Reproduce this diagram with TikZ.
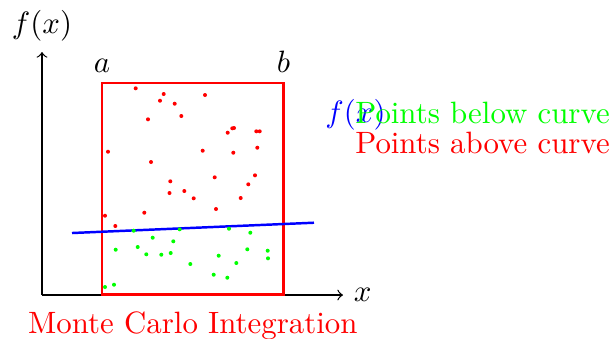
\documentclass[tikz,border=0pt]{standalone}
\begin{document}
\begin{tikzpicture}[x=0.3241pt,y=-0.3241pt,
  ax/.style={->,line width=0.4pt},
  above dot/.style={fill=red},
  below dot/.style={fill=green},
  lbl/.style={inner sep=0pt,anchor=base}]
\useasboundingbox (0,0) rectangle (614,338);
% axes
\coordinate (O) at (42,295);
\coordinate (X) at (343,295);
\coordinate (Y) at (42,52);
\draw[ax] (O) -- (X) node[right] (xl) {$x$};
\draw[ax] (O) -- (Y) node[above] (yl) {$f(x)$};
% interval rectangle
\coordinate (A) at (102,83);
\coordinate (B) at (283.5,83);
\draw[red,line width=0.8pt] (102,294.5) rectangle (283.5,83);
\node[above] (al) at (A) {$a$};
\node[above] (bl) at (B) {$b$};
% function
\coordinate (F0) at (72,233);
\coordinate (F1) at (314,222.7);
\draw[blue,line width=0.8pt] (F0) -- (F1);
\node[lbl,blue] (fl) at (355.5,122) {$f(x)$};
% points above
\foreach \p in {(135.7,88.3),(163.7,94),(205,95),(160,100.7),(174.7,103.7),(181.3,116),(148,119.3),(232.3,128.3),(234,128),(227.7,132.7),(256.3,131.3),(259.7,131.3),(108,151.7),(202.7,150.7),(233.3,152.7),(257.3,147.7),(151,162),(214.7,177.3),(255,175.3),(248.3,184.3),(170.3,181.3),(169.5,193),(184.3,191),(193.7,198.3),(240.7,198),(216,209),(105,215.7),(144.3,212.7),(115.3,226)}
  \fill[above dot] \p circle (2);
% points below
\foreach \p in {(133.7,230.7),(179.7,229.3),(229,228.7),(250.3,232.7),(152.7,237.7),(173.3,241.3),(115.7,249.7),(137.7,247),(146.3,254.3),(161.3,254.7),(170.7,253),(190.3,264),(218.7,255.7),(247.3,249.3),(267.7,250.7),(268,258.3),(236.3,263),(213.7,274.7),(227.3,277.7),(105,287),(114,284.7)}
  \fill[below dot] \p circle (2);
% legend
\node[lbl,green] (gl) at (482.5,123) {Points below curve};
\node[lbl,red] (rl) at (482.5,153) {Points above curve};
\node[lbl,red] (title) at (192.8,333) {Monte Carlo Integration};
\end{tikzpicture}
\end{document}
